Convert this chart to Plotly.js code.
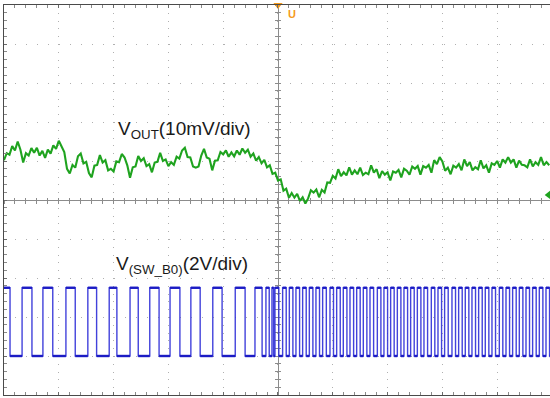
<!DOCTYPE html>
<html><head><meta charset="utf-8">
<script src="https://cdn.plot.ly/plotly-3.0.1.min.js"></script>
<style>html,body{margin:0;padding:0;background:#fff;overflow:hidden}#chart{width:550px;height:398px}</style>
</head><body><div id="chart"></div>
<script>
// Time axis: 10 units per division, trigger at t = 0
const sampleStart = -50;
const sampleStep = 0.5;
// VOUT ripple, mV (10 mV/div), relative to screen centre
const voutMv = [
 10.2, 12.0, 11.6, 13.8, 12.7, 15.0, 12.9, 9.6, 12.0, 11.4,
 13.3, 12.1, 13.4, 11.4, 12.6, 10.8, 12.9, 11.9, 14.0, 13.1,
 15.2, 13.9, 12.3, 8.0, 6.8, 9.0, 8.3, 11.2, 11.9, 9.4,
 9.8, 6.9, 5.8, 8.8, 9.0, 11.5, 9.6, 10.2, 7.6, 8.0,
 7.3, 9.9, 9.7, 11.8, 10.9, 8.9, 5.7, 8.4, 8.6, 11.3,
 10.0, 10.7, 8.7, 9.2, 7.1, 9.6, 9.8, 12.1, 10.0, 10.4,
 8.7, 9.7, 9.0, 11.1, 10.6, 12.7, 13.4, 11.0, 10.9, 8.6,
 8.3, 8.6, 11.4, 13.1, 10.9, 10.6, 7.6, 10.1, 10.2, 12.3,
 11.7, 12.7, 11.1, 12.2, 11.2, 12.7, 11.6, 13.2, 12.1, 12.9,
 11.1, 11.9, 10.1, 11.0, 9.4, 10.3, 8.4, 8.9, 6.7, 7.0,
 5.0, 5.3, 2.4, 2.9, 0.6, 1.8, 0.6, 1.6, -0.2, 0.7,
 -0.9, 0.4, 2.5, 1.9, 2.7, 0.7, 2.6, 1.9, 4.5, 4.4,
 6.2, 5.5, 7.9, 6.1, 7.1, 6.3, 8.4, 6.5, 7.6, 6.6,
 8.3, 6.4, 7.0, 6.6, 8.9, 7.0, 7.9, 5.6, 7.4, 6.5,
 7.1, 5.0, 7.3, 7.0, 7.7, 5.8, 8.0, 7.5, 6.5, 8.6,
 8.0, 8.7, 6.5, 8.7, 8.3, 9.0, 7.0, 10.2, 9.2, 11.0,
 9.9, 7.5, 8.3, 6.6, 8.8, 8.3, 9.2, 7.6, 10.4, 8.7,
 9.7, 7.6, 8.4, 7.9, 10.2, 8.1, 8.9, 7.0, 9.4, 9.0,
 10.0, 8.3, 10.4, 9.6, 11.0, 9.6, 10.4, 8.3, 10.1, 9.0,
 8.9, 8.4, 10.4, 8.6, 9.7, 9.0, 11.0, 8.9, 9.7, 8.9
];
const voutMarkerMv = 1.3;

// SW node (2 V/div), levels in volts, ground at -4 div
const swHighV = 3.5;
const swLowV = 0;
const swGroundDiv = -4;
const swFall = [
 -48.9, -44.9, -41.1, -37.0, -33.1, -29.4, -25.5, -21.7, -17.9, -14.2, -10.2, -6.0, -2.9, -1.6, -0.8,
 0.15, 1.5, 2.72, 3.94, 5.15, 6.37, 7.58, 8.82, 10.13, 11.36, 12.58, 13.8, 15.0, 16.22, 17.45,
 18.78, 20.0, 21.2, 22.43, 23.65, 24.86, 26.08, 27.3, 28.62, 29.85, 31.06, 32.4, 33.62, 34.83,
 36.05, 37.27, 38.48, 39.7, 41.03, 42.26, 43.47, 44.69, 45.9, 47.12, 48.34, 49.56
];
const swRise = [
 -46.7, -42.9, -38.7, -34.7, -30.8, -27.0, -23.4, -19.7, -15.9, -11.9, -7.8, -4.2, -2.2, -1.1,
 -0.55, 0.85, 2.07, 3.28, 4.50, 5.72, 6.93, 8.15, 9.49, 10.71, 11.92, 13.14, 14.36, 15.57, 16.79,
 18.13, 19.34, 20.56, 21.78, 22.99, 24.21, 25.43, 26.64, 27.98, 29.20, 30.41, 31.75, 32.97, 34.18,
 35.40, 36.62, 37.83, 39.05, 40.39, 41.61, 42.82, 44.04, 45.26, 46.47, 47.69, 48.91
];

const labelVout = 'V<sub>OUT</sub>(10mV/div)';
const labelSw = 'V<sub>(SW_B0)</sub>(2V/div)';

// ---- build ----
const X0 = -50, X1 = 49.64;
const voutT = voutMv.map((_, i) => sampleStart + i * sampleStep);
const swY = v => swGroundDiv * 10 + v * 5;
const H = swY(swHighV), L = swY(swLowV);

const edgeX = [X0], edgeY = [H];
const lvlX = [X0], lvlY = [H];
for (let k = 0; k < swFall.length; k++) {
  const f = swFall[k];
  edgeX.push(f, f); edgeY.push(H, L);
  lvlX.push(f, null, f); lvlY.push(H, null, L);
  const r = k < swRise.length ? swRise[k] : X1;
  edgeX.push(r); edgeY.push(L);
  lvlX.push(r); lvlY.push(L);
  if (k < swRise.length) {
    edgeX.push(r); edgeY.push(H);
    lvlX.push(null, r); lvlY.push(null, H);
  }
}

const font = 'Liberation Sans, Arial, sans-serif';
const traces = [
  {x: edgeX, y: edgeY, mode: 'lines', line: {color: 'rgba(45,45,215,0.9)', width: 1.4}, hoverinfo: 'skip'},
  {x: lvlX, y: lvlY, mode: 'lines', line: {color: '#1c1cc4', width: 2.4}, connectgaps: false, hoverinfo: 'skip'},
  {x: voutT, y: voutMv, mode: 'lines', line: {color: '#1fa31f', width: 2.1}, hoverinfo: 'skip'},
  {x: [49.4], y: [voutMarkerMv], mode: 'markers', marker: {symbol: 'triangle-left', size: 8, color: '#1fa31f'}, cliponaxis: false, hoverinfo: 'skip'},
  {x: [0], y: [50], mode: 'markers', marker: {symbol: 'triangle-down', size: 8, color: '#f59a1b'}, cliponaxis: false, hoverinfo: 'skip'},
  {x: [0], y: [0], xaxis: 'x2', mode: 'markers', marker: {size: 0, opacity: 0}, hoverinfo: 'skip'},
  {x: [0], y: [0], xaxis: 'x3', mode: 'markers', marker: {size: 0, opacity: 0}, hoverinfo: 'skip'},
  {x: [0], y: [0], yaxis: 'y2', mode: 'markers', marker: {size: 0, opacity: 0}, hoverinfo: 'skip'},
  {x: [0], y: [0], yaxis: 'y3', mode: 'markers', marker: {size: 0, opacity: 0}, hoverinfo: 'skip'}
];

const gridCommon = {showticklabels: false, zeroline: false, fixedrange: true};
const centerX = (tk) => Object.assign({}, gridCommon, {
  overlaying: 'x', anchor: 'free', position: 0.5, range: [X0, X1], showgrid: false,
  showline: true, linecolor: '#8c8c8c', linewidth: 1, layer: 'below traces',
  ticks: tk, ticklen: 2.5, tickcolor: '#8c8c8c', dtick: 10, tick0: 0,
  minor: {dtick: 2, ticks: tk, ticklen: 2.5, tickcolor: '#8c8c8c', showgrid: false}
});
const centerY = (tk) => Object.assign({}, gridCommon, {
  overlaying: 'y', anchor: 'free', position: (0 - X0) / (X1 - X0), range: [-50, 50], showgrid: false,
  showline: true, linecolor: '#8c8c8c', linewidth: 1, layer: 'below traces',
  ticks: tk, ticklen: 2.5, tickcolor: '#8c8c8c', dtick: 10, tick0: 0,
  minor: {dtick: 2, ticks: tk, ticklen: 2.5, tickcolor: '#8c8c8c', showgrid: false}
});

const layout = {
  width: 550, height: 398,
  margin: {l: 4, r: 0, t: 5, b: 3, pad: 0},
  paper_bgcolor: '#ffffff', plot_bgcolor: '#ffffff',
  showlegend: false,
  font: {family: font, color: '#1a1a1a'},
  xaxis: Object.assign({}, gridCommon, {
    range: [X0, X1], dtick: 10, tick0: 0,
    showgrid: true, gridcolor: '#b0b0b0', gridwidth: 1, griddash: '1px,6.8px',
    showline: true, mirror: 'ticks', linecolor: '#4a4a4a', linewidth: 1,
    ticks: 'inside', ticklen: 3, tickcolor: '#6a6a6a',
    minor: {dtick: 2, ticks: 'inside', ticklen: 3, tickcolor: '#8a8a8a', showgrid: false}
  }),
  yaxis: Object.assign({}, gridCommon, {
    range: [-50, 50], dtick: 10, tick0: 0,
    showgrid: true, gridcolor: '#b0b0b0', gridwidth: 1, griddash: '1px,10px',
    showline: true, mirror: false, linecolor: '#4a4a4a', linewidth: 1,
    ticks: 'inside', ticklen: 3, tickcolor: '#6a6a6a',
    minor: {dtick: 2, ticks: 'inside', ticklen: 3, tickcolor: '#8a8a8a', showgrid: false}
  }),
  xaxis2: centerX('outside'),
  xaxis3: centerX('inside'),
  yaxis2: centerY('outside'),
  yaxis3: centerY('inside'),
  annotations: [
    {x: -29.6, y: 17.9, xref: 'x', yref: 'y', text: labelVout, showarrow: false,
     xanchor: 'left', yanchor: 'middle', font: {size: 19, family: font, color: '#1a1a1a'}},
    {x: -29.9, y: -16.7, xref: 'x', yref: 'y', text: labelSw, showarrow: false,
     xanchor: 'left', yanchor: 'middle', font: {size: 19, family: font, color: '#1a1a1a'}},
    {x: 2.6, y: 47.6, xref: 'x', yref: 'y', text: '<b>U</b>', showarrow: false,
     xanchor: 'center', yanchor: 'middle', font: {size: 11, family: font, color: '#f59a1b'}}
  ]
};

Plotly.newPlot('chart', traces, layout, {staticPlot: true, displayModeBar: false});
</script>
</body></html>
